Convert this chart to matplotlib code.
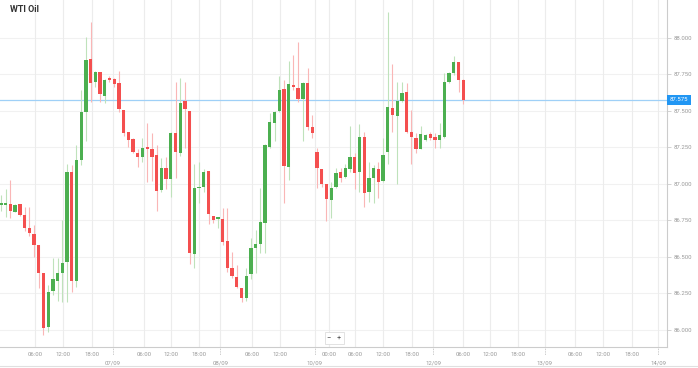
import numpy as np
import matplotlib.pyplot as plt
from matplotlib.lines import Line2D
from matplotlib.transforms import blended_transform_factory

plt.rcParams['font.family'] = ['Roboto', 'DejaVu Sans']

# hourly candles, WTI Oil
opens = [86.856, 86.854, 86.858, 86.808, 86.858, 86.785, 86.699, 86.658, 86.580, 86.386,
         86.021, 86.267, 86.333, 86.386, 86.461, 87.082, 86.333, 87.162, 87.489, 87.852,
         87.694, 87.763, 87.603, 87.724, 87.717, 87.692, 87.502, 87.356, 87.306, 87.210,
         87.185, 87.247, 87.237, 87.196, 86.957, 87.105, 87.032, 87.349, 87.208, 87.566,
         87.498, 86.518, 86.968, 86.979, 87.087, 86.779, 86.758, 86.758, 86.607, 86.420,
         86.363, 86.288, 86.215, 86.379, 86.557, 86.584, 86.728, 87.253, 87.413, 87.498,
         87.646, 87.112, 87.676, 87.658, 87.578, 87.687, 87.390, 87.215, 87.098, 86.995,
         86.888, 86.979, 87.078, 87.048, 87.100, 87.185, 87.078, 87.322, 86.945, 87.037,
         87.100, 87.018, 87.219, 87.521, 87.466, 87.566, 87.626, 87.352, 87.315, 87.237,
         87.299, 87.342, 87.322, 87.299, 87.322, 87.699, 87.756, 87.836, 87.712]
closes = [86.860, 86.863, 86.813, 86.854, 86.785, 86.694, 86.660, 86.580, 86.386, 86.014,
          86.260, 86.345, 86.386, 86.454, 87.082, 86.333, 87.162, 87.489, 87.847, 87.687,
          87.767, 87.612, 87.712, 87.712, 87.683, 87.509, 87.349, 87.299, 87.219, 87.185,
          87.242, 87.237, 87.185, 86.952, 87.105, 87.032, 87.345, 87.215, 87.550, 87.509,
          86.523, 86.968, 86.973, 87.082, 86.792, 86.751, 86.767, 86.603, 86.420, 86.368,
          86.290, 86.215, 86.370, 86.562, 86.584, 86.735, 87.265, 87.420, 87.493, 87.639,
          87.121, 87.680, 87.660, 87.578, 87.692, 87.386, 87.345, 87.105, 86.995, 86.895,
          86.973, 87.071, 87.041, 87.105, 87.185, 87.071, 87.322, 86.934, 87.041, 87.105,
          87.014, 87.196, 87.527, 87.470, 87.566, 87.619, 87.352, 87.322, 87.237, 87.342,
          87.333, 87.311, 87.299, 87.333, 87.699, 87.760, 87.836, 87.710, 87.573]
highs = [86.922, 86.961, 87.025, 86.858, 86.860, 86.842, 86.842, 86.717, 86.582, 86.388,
         86.306, 86.493, 86.489, 86.751, 87.132, 87.128, 87.265, 87.642, 88.002, 88.105,
         87.772, 87.763, 87.717, 87.735, 87.726, 87.772, 87.502, 87.356, 87.311, 87.237,
         87.311, 87.413, 87.345, 87.265, 87.174, 87.180, 87.356, 87.699, 87.726, 87.699,
         87.498, 87.132, 87.151, 87.100, 87.087, 86.779, 86.772, 86.831, 86.836, 86.534,
         86.443, 86.288, 86.420, 86.626, 86.683, 86.973, 87.269, 87.482, 87.498, 87.737,
         87.710, 87.840, 87.881, 87.968, 87.694, 87.795, 87.470, 87.242, 87.098, 86.995,
         87.014, 87.110, 87.105, 87.132, 87.397, 87.208, 87.406, 87.356, 87.151, 87.128,
         87.151, 87.311, 88.174, 87.817, 87.699, 87.699, 87.687, 87.505, 87.345, 87.397,
         87.338, 87.352, 87.345, 87.413, 87.756, 87.767, 87.877, 87.836, 87.717]
lows = [86.813, 86.774, 86.763, 86.804, 86.781, 86.676, 86.642, 86.500, 86.288, 85.963,
        85.986, 86.237, 86.196, 86.192, 86.187, 86.260, 86.295, 87.128, 87.292, 87.557,
        87.664, 87.557, 87.550, 87.694, 87.664, 87.489, 87.329, 87.253, 87.208, 87.116,
        87.151, 87.014, 87.018, 86.813, 86.945, 86.963, 86.911, 87.041, 87.192, 87.247,
        86.447, 86.425, 86.865, 86.945, 86.721, 86.728, 86.699, 86.580, 86.397, 86.356,
        86.283, 86.192, 86.196, 86.347, 86.386, 86.523, 86.523, 87.242, 87.292, 87.493,
        86.865, 87.025, 87.642, 87.557, 87.292, 87.368, 87.315, 86.973, 86.979, 86.744,
        86.767, 86.968, 87.014, 87.037, 87.082, 86.963, 86.945, 86.842, 86.877, 86.865,
        86.904, 87.009, 87.132, 87.352, 86.995, 87.562, 87.345, 87.132, 87.208, 87.235,
        87.292, 87.299, 87.247, 87.242, 87.311, 87.687, 87.744, 87.626, 87.543]

last_price = 87.575

time_labels = ['06:00', '12:00', '18:00', '06:00', '12:00', '18:00', '06:00', '12:00',
               '00:00', '06:00', '12:00', '18:00', '06:00', '12:00', '18:00',
               '06:00', '12:00', '18:00']
time_pos = [7.2, 13.1, 19.2, 30.3, 36.0, 42.0, 53.2, 59.1,
            69.6, 75.0, 81.0, 87.1, 98.0, 103.7, 109.6,
            121.7, 127.6, 133.8]
date_labels = ['07/09', '08/09', '10/09', '12/09', '13/09', '14/09']
date_pos = [23.7, 46.5, 66.5, 91.6, 115.3, 139.3]

price_ticks = [86.0, 86.25, 86.5, 86.75, 87.0, 87.25, 87.5, 87.75, 88.0]

GREEN = '#4caf50'
RED = '#f44f4f'
GREEN_WICK = '#bfe2bb'
RED_WICK = '#fab6b6'


def draw_candles(ax):
    o = np.array(opens)
    c = np.array(closes)
    h = np.array(highs)
    l = np.array(lows)
    x = np.arange(len(o))
    up = c > o

    ax.vlines(x[up], l[up], h[up], color=GREEN_WICK, lw=0.8, zorder=2)
    ax.vlines(x[~up], l[~up], h[~up], color=RED_WICK, lw=0.8, zorder=2)

    bottom = np.minimum(o, c)
    height = np.maximum(np.abs(c - o), 0.012)
    ax.bar(x[up], height[up], bottom=bottom[up], width=0.7, color=GREEN, zorder=3)
    ax.bar(x[~up], height[~up], bottom=bottom[~up], width=0.7, color=RED, zorder=3)


fig = plt.figure(figsize=(6.98, 3.68), dpi=100)
ax = fig.add_axes([0, 1 - 347 / 368, 667 / 698, 347 / 368])

draw_candles(ax)

ax.set_xlim(-0.21, 141.2)
ax.set_ylim(85.881, 88.258)

# grid
for p in price_ticks:
    ax.axhline(p, color='#f1f1f1', lw=0.8, zorder=0)
for p in time_pos + date_pos:
    ax.axvline(p, color='#ececec', lw=0.8, zorder=0)

# current price line
ax.axhline(last_price, color='#9fd0f7', lw=0.9, zorder=1)

# y axis on the right
ax.yaxis.tick_right()
ax.set_yticks(price_ticks)
ax.set_yticklabels(['{:.3f}'.format(p) for p in price_ticks])
ax.tick_params(axis='y', length=3, width=0.6, color='#cccccc', pad=2,
               labelsize=4.3, labelcolor='#999999')

# x axis: times on first row, dates below
ax.set_xticks(time_pos)
ax.set_xticklabels(time_labels)
ax.set_xticks(date_pos, minor=True)
ax.set_xticklabels(date_labels, minor=True)
ax.tick_params(axis='x', which='major', length=0, pad=3.5,
               labelsize=4.3, labelcolor='#999999')
ax.tick_params(axis='x', which='minor', length=0, pad=10,
               labelsize=4.3, labelcolor='#999999')

trans = blended_transform_factory(ax.transData, ax.transAxes)
for p in date_pos:
    ax.plot([p, p], [0, -0.022], transform=trans, color='#bbbbbb', lw=0.6,
            ls=(0, (1, 1)), clip_on=False)

for side in ['left', 'top']:
    ax.spines[side].set_visible(False)
for side in ['right', 'bottom']:
    ax.spines[side].set_color('#cccccc')
    ax.spines[side].set_linewidth(0.8)

# price tag
ytrans = blended_transform_factory(ax.transAxes, ax.transData)
ax.text(1.004, last_price, '{:.3f}'.format(last_price), transform=ytrans,
        ha='left', va='center', fontsize=4.3, color='white', clip_on=False,
        bbox=dict(boxstyle='square,pad=0.45', facecolor='#2196f3', edgecolor='none'))

# title
fig.text(10 / 698, 1 - 10 / 368, 'WTI Oil', fontsize=6.5, fontweight='bold',
         color='#333333', ha='left', va='center')

# zoom buttons
fig.text(334.5 / 698, 1 - 338 / 368, '\u2212   +', fontsize=5.5, color='#555555',
         ha='center', va='center',
         bbox=dict(boxstyle='square,pad=0.35', facecolor='white', edgecolor='#dddddd', lw=0.6))

# outer frame bottom line
fig.add_artist(Line2D([0, 1], [1 - 366 / 368] * 2, color='#e0e0e0', lw=0.8))

fig.savefig('out.png', dpi=100)
